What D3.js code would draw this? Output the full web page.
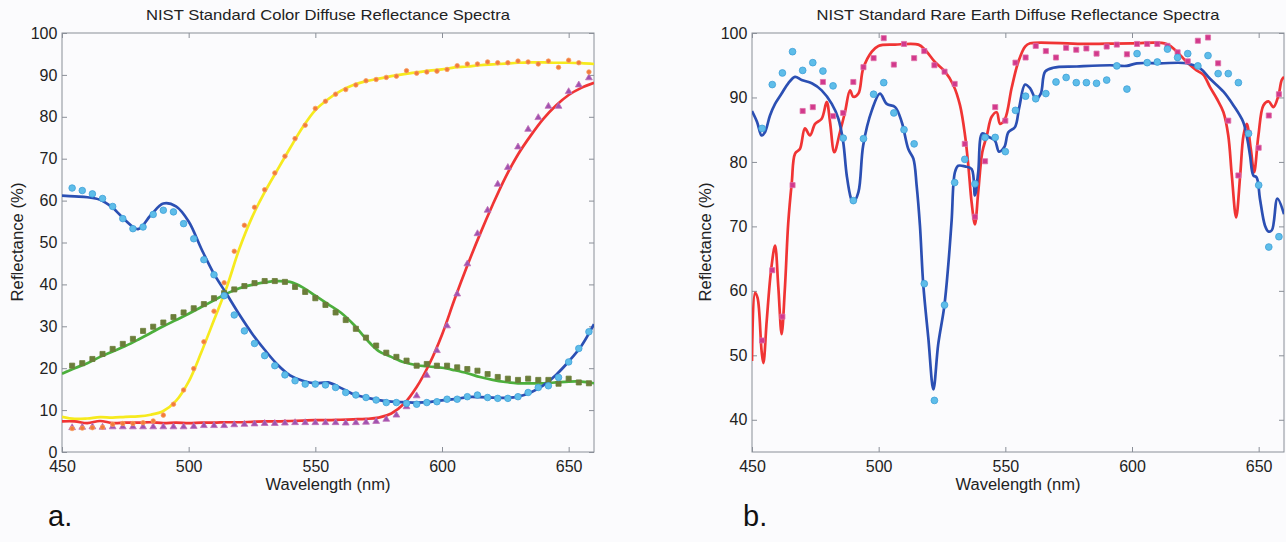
<!DOCTYPE html>
<meta charset="utf-8">
<script src="https://d3js.org/d3.v7.min.js"></script>
<style>
	body{
		margin:0;
		background:#fbfbfd;
		font-family:"Liberation Sans", Arial, sans-serif;
	}
	.tick text{
		font-size:16px;
		fill:#222;
	}
	.tick line{
		stroke:#8a8f98;
	}
</style>
<div id="chart"></div>
<script>

// wavelengths (nm) of the smooth spectra, panel a
var wlLine = [450,455,460,465,470,475,480,485,490,495,500,505,510,515,520,525,530,535,540,545,
	550,555,560,565,570,575,580,585,590,595,600,605,610,615,620,625,630,635,640,645,650,655,660]
// wavelengths of the measured points (both panels)
var wlMarks = [454,458,462,466,470,474,478,482,486,490,494,498,502,506,510,514,518,522,526,530,
	534,538,542,546,550,554,558,562,566,570,574,578,582,586,590,594,598,602,606,610,
	614,618,622,626,630,634,638,642,646,650,654,658]

// panel a - lines
var blueLine = [61.2,61.0,60.8,60.2,58.3,55.3,53.2,56.5,59.3,58.6,55.0,48.5,42.5,37.7,32.8,28.3,24.4,20.9,18.3,17.0,
	16.4,16.6,15.3,13.8,13.0,12.4,12.0,11.9,11.8,11.9,12.3,12.6,13.1,13.1,13.0,12.9,13.2,14.2,15.9,18.4,21.6,25.3,30.5]
var yellowLine = [8.4,7.9,8.0,8.3,8.2,8.4,8.5,8.9,9.8,12.2,16.8,23.8,31.5,39.3,48.5,56.0,62.0,67.3,72.5,77.5,
	81.6,84.2,86.2,87.6,88.5,89.1,89.7,90.2,90.6,91.0,91.3,91.8,92.0,92.3,92.5,92.7,92.9,93.0,93.0,92.9,92.9,92.8,92.6]
var greenLine = [18.7,20.0,21.2,22.7,24.0,25.3,26.8,28.4,30.0,31.5,33.0,34.6,36.2,37.8,39.1,39.9,40.5,40.8,40.6,39.3,
	37.3,35.3,33.3,30.5,27.0,24.1,22.7,21.4,20.7,20.4,20.1,19.5,18.8,17.9,17.2,16.7,16.4,16.4,16.4,16.6,16.8,16.8,16.4]
var redLine = [7.3,7.3,6.9,7.4,6.9,7.0,7.0,7.1,6.9,7.0,6.9,7.0,7.0,7.1,7.1,7.2,7.3,7.3,7.4,7.5,
	7.6,7.6,7.7,7.8,7.9,8.2,9.2,11.5,15.5,21.0,28.0,36.5,44.5,52.0,59.0,65.5,71.0,75.5,79.5,82.7,85.2,86.9,88.1]

// panel a - measured points
var blueDots = [63.0,62.4,61.6,60.5,58.6,55.7,53.3,53.7,56.7,57.7,57.3,54.5,50.9,45.9,42.3,37.3,32.7,28.9,25.9,23.0,
	20.6,18.4,17.0,16.2,16.2,16.0,15.4,14.2,13.6,13.0,12.4,11.8,11.8,11.6,11.4,11.8,12.0,12.6,12.6,13.2,
	13.6,13.0,12.8,12.8,13.2,14.2,15.4,15.8,17.8,21.5,24.7,28.7]
var yellowDots = [5.6,5.7,5.8,5.9,6.6,6.8,6.8,7.0,7.4,8.8,11.4,14.8,19.9,26.3,33.6,40.4,47.9,54.1,58.4,62.6,
	66.6,70.6,74.8,78.0,82.0,83.7,85.4,86.5,87.6,88.6,88.9,89.4,89.7,91.0,90.4,90.7,90.9,91.3,92.2,92.6,
	92.6,93.1,92.9,92.9,93.3,93.1,92.6,93.3,91.8,93.5,92.9,90.7]
var greenDots = [20.6,21.2,22.2,23.4,24.6,25.8,27.0,28.9,29.9,30.9,32.2,33.3,34.3,35.3,36.7,37.9,38.8,39.6,40.3,40.8,
	40.8,40.6,39.4,38.2,36.7,35.1,33.3,31.5,29.4,27.3,25.4,23.7,22.7,21.8,20.6,21.0,20.6,20.6,20.2,19.8,
	19.4,18.6,17.9,17.5,17.2,17.5,17.2,17.2,16.3,17.5,16.6,16.4]
var redDots = [5.8,5.9,6.0,5.9,6.0,6.0,6.0,6.0,6.0,6.0,6.0,6.0,6.1,6.3,6.3,6.3,6.5,6.6,6.7,6.8,
	6.8,6.9,7.0,7.0,7.0,7.0,7.0,6.9,7.0,7.1,7.3,7.8,8.8,10.8,13.4,18.3,24.2,30.1,37.7,44.9,
	52.1,57.7,63.9,67.9,72.8,77.0,79.8,82.5,82.5,86.0,87.6,89.3]

// panel b - lines (uneven sampling, the spectra have sharp bands)
var rareBlueWl = [450,452,453.8,455.1,457.1,459.1,461.7,464.3,467,469.6,473.6,477.5,481.5,484.1,486,487.4,489.1,490,492,493.9,
	497.3,500.5,503.2,506.5,509.1,511.7,513.7,515,516.3,517.6,519.6,521.6,523.5,525.9,527.5,528.8,530.1,531.4,534.1,536.7,
	538,539.3,540.9,543.3,545.9,547.5,549.6,551.2,553.8,555.5,557.8,559.8,562.1,564,565.7,568.9,578.2,591.3,597.9,601.9,
	611.1,621.6,626.9,630.8,636.1,640,643.9,645.5,646.6,647.9,649.2,650.5,652.5,653.8,655.2,657.4,660]
var rareBlue = [87.9,86.2,84.1,84.6,87.2,89.0,90.6,92.2,93.2,92.7,92.2,91.1,89.0,86.7,83.1,77.9,74.3,73.7,75.3,82.6,
	88.0,90.6,89.0,88.5,86.2,82.0,80.5,76.3,70.1,61.0,52.7,44.7,51.7,57.6,64.1,70.9,78.4,79.4,79.3,78.9,
	74.8,78.4,84.4,83.9,83.3,81.6,82.3,84.6,85.4,88.5,92.0,91.4,89.8,90.6,94.0,94.6,94.8,95.0,94.9,95.3,
	95.3,95.3,94.5,92.9,90.9,88.8,86.2,83.6,81.0,77.9,77.6,74.3,70.1,69.2,69.4,74.3,71.9]
var rareRedWl = [450,451.2,452.2,453.8,454.5,455.8,457.5,459.1,460.4,461.7,463,464.3,465.7,467,468.9,470.9,472.9,474.9,477.5,479.5,
	480.8,482.5,484.7,486.7,488.7,490,492,493.9,497.3,499.9,506.5,515.7,518.3,522.2,526.2,529.5,532.1,534.1,535.4,536.7,
	538,539.3,540.9,542.7,544.6,546.6,547.9,549.9,552.5,555.1,557.8,559.8,580,600,613.7,617.7,621.6,625.5,628.2,630.8,
	633.5,636.1,638,639.4,641.1,642.7,644,645.3,646.9,648.2,649.9,651.9,653.9,655.8,657.8,659.1,660]
var rareRed = [49.1,59.7,58.9,50.6,48.8,55.3,63.1,67.0,60.5,53.3,60.5,70.5,76.8,81.3,82.0,85.2,84.1,85.9,86.7,89.3,
	86.2,81.5,84.6,87.7,91.1,90.1,90.6,94.5,97.1,98.0,98.2,98.2,97.4,95.5,94.0,91.9,88.8,84.1,79.4,73.7,
	70.3,75.3,81.5,84.1,87.0,87.7,85.9,86.7,91.5,95.5,97.9,98.4,98.3,98.4,98.3,97.1,95.5,94.2,93.5,91.6,
	89.8,87.7,84.1,77.9,71.4,77.9,84.1,85.9,82.0,78.4,84.1,88.8,89.4,88.5,90.3,92.7,93.2]

// panel b - measured points
var rareBlueDots = [85.2,92.0,93.8,97.1,94.2,95.4,94.1,91.8,83.7,74.0,83.6,90.5,92.3,87.6,85.0,82.8,61.1,43.0,57.8,76.8,
	80.4,76.6,83.8,83.8,81.6,88.0,90.2,89.8,90.6,92.4,93.1,92.3,92.3,92.2,92.7,94.9,91.3,96.8,95.4,95.5,
	97.5,96.2,96.8,94.9,96.5,93.7,93.7,92.3,84.4,76.4,66.8,68.4]
var rareRedDots = [52.3,63.2,56.0,76.4,87.9,88.5,92.4,87.1,87.6,92.4,94.7,96.1,99.2,95.1,98.3,96.1,97.2,95.0,94.0,92.1,
	82.8,71.5,80.1,88.5,86.4,95.4,96.2,98.0,97.2,96.2,97.7,97.4,97.6,96.8,97.9,98.2,96.7,98.3,98.3,98.3,
	98.0,97.0,95.6,98.8,99.3,95.3,86.4,77.9,84.5,82.2,87.2,90.5]

var xTicks = [450,500,550,600,650]
var yTicksA = [0,10,20,30,40,50,60,70,80,90,100]
var yTicksB = [40,50,60,70,80,90,100]

var W = 1286, H = 542
var svg = d3.select("#chart").append("svg").attr("width",W).attr("height",H)
svg.append("rect").attr("width",W).attr("height",H).attr("fill","#fbfbfd")

function drawPanel(opt){
	var x = d3.scaleLinear().domain([450,660]).range([opt.left,opt.right])
	var y = d3.scaleLinear().domain(opt.yDomain).range([452,33])
	var g = svg.append("g")

	g.append("clipPath").attr("id","clip_"+opt.id)
		.append("rect").attr("x",opt.left).attr("y",33)
		.attr("width",opt.right-opt.left).attr("height",452-33)

	// axes, ticks pointing inwards like matlab
	g.append("g").attr("transform","translate(0,452)")
		.call(d3.axisBottom(x).tickValues(xTicks).tickSize(-5).tickPadding(8.6))
	g.append("g").attr("transform","translate(0,33)")
		.call(d3.axisTop(x).tickValues(xTicks).tickSize(-5).tickFormat(""))
	g.append("g").attr("transform","translate("+opt.left+",0)")
		.call(d3.axisLeft(y).tickValues(opt.yTicks).tickSize(-5).tickPadding(4.6))
	g.append("g").attr("transform","translate("+opt.right+",0)")
		.call(d3.axisRight(y).tickValues(opt.yTicks).tickSize(-5).tickFormat(""))
	g.selectAll(".domain").remove()
	g.selectAll(".tick text").attr("font-family",null)

	g.append("rect").attr("x",opt.left).attr("y",33)
		.attr("width",opt.right-opt.left).attr("height",452-33)
		.attr("fill","none").attr("stroke","#8a8f98").attr("stroke-width",1)

	var plot = g.append("g").attr("clip-path","url(#clip_"+opt.id+")")
	var line = d3.line()
		.x(function(d){ return x(d[0]) })
		.y(function(d){ return y(d[1]) })
		.curve(d3.curveCatmullRom.alpha(0.5))

	opt.lines.forEach(function(s){
		plot.append("path")
			.datum(d3.zip(s.wl,s.values))
			.attr("d",line)
			.attr("fill","none")
			.attr("stroke",s.color)
			.attr("stroke-width",2.7)
			.attr("stroke-linejoin","round")
	})

	opt.marks.forEach(function(s){
		var sym = d3.symbol().type(s.shape).size(s.size)
		plot.append("g").selectAll("path")
			.data(d3.zip(wlMarks,s.values))
			.join("path")
			.attr("d",sym)
			.attr("transform",function(d){ return "translate("+x(d[0])+","+y(d[1])+")" })
			.attr("fill",s.fill)
			.attr("stroke",s.stroke)
			.attr("stroke-width",0.8)
	})

	// labels
	g.append("text").text(opt.title)
		.attr("x",(opt.left+opt.right)/2).attr("y",20)
		.attr("text-anchor","middle")
		.attr("textLength",opt.titleLen).attr("lengthAdjust","spacingAndGlyphs")
		.style("font-size","15px").attr("fill","#222")
	g.append("text").text("Wavelength (nm)")
		.attr("x",(opt.left+opt.right)/2).attr("y",490)
		.attr("text-anchor","middle")
		.attr("textLength",125).attr("lengthAdjust","spacingAndGlyphs")
		.style("font-size","16px").attr("fill","#222")
	g.append("text").text("Reflectance (%)")
		.attr("transform","translate("+opt.yLabelX+",242) rotate(-90)")
		.attr("text-anchor","middle")
		.attr("textLength",119).attr("lengthAdjust","spacingAndGlyphs")
		.style("font-size","16px").attr("fill","#222")
	g.append("text").text(opt.tag)
		.attr("x",opt.tagX).attr("y",526)
		.style("font-size","29px").attr("fill","#111")
}

drawPanel({
	id:"a", left:62, right:594, yDomain:[0,100], yTicks:yTicksA,
	title:"NIST Standard Color Diffuse Reflectance Spectra", titleLen:364,
	yLabelX:22.5, tag:"a.", tagX:48,
	lines:[
		{wl:wlLine, values:greenLine, color:"#4caf3c"},
		{wl:wlLine, values:yellowLine, color:"#f6ea1e"},
		{wl:wlLine, values:redLine, color:"#f03434"},
		{wl:wlLine, values:blueLine, color:"#2b4fb3"}
	],
	marks:[
		{values:greenDots, shape:d3.symbolSquare, size:26, fill:"#6b7d3a", stroke:"#6b7d3a"},
		{values:redDots, shape:d3.symbolTriangle, size:20, fill:"#a052b0", stroke:"#c070b8"},
		{values:yellowDots, shape:d3.symbolCircle, size:16, fill:"#f27a3c", stroke:"#f7a060"},
		{values:blueDots, shape:d3.symbolCircle, size:34, fill:"#5ebde9", stroke:"#3f9fd8"}
	]
})

drawPanel({
	id:"b", left:752, right:1284, yDomain:[35,100], yTicks:yTicksB,
	title:"NIST Standard Rare Earth Diffuse Reflectance Spectra", titleLen:403,
	yLabelX:710.5, tag:"b.", tagX:743,
	lines:[
		{wl:rareRedWl, values:rareRed, color:"#f03434"},
		{wl:rareBlueWl, values:rareBlue, color:"#2b4fb3"}
	],
	marks:[
		{values:rareRedDots, shape:d3.symbolSquare, size:26, fill:"#d2398c", stroke:"#e070a8"},
		{values:rareBlueDots, shape:d3.symbolCircle, size:36, fill:"#5ebde9", stroke:"#3f9fd8"}
	]
})

</script>
